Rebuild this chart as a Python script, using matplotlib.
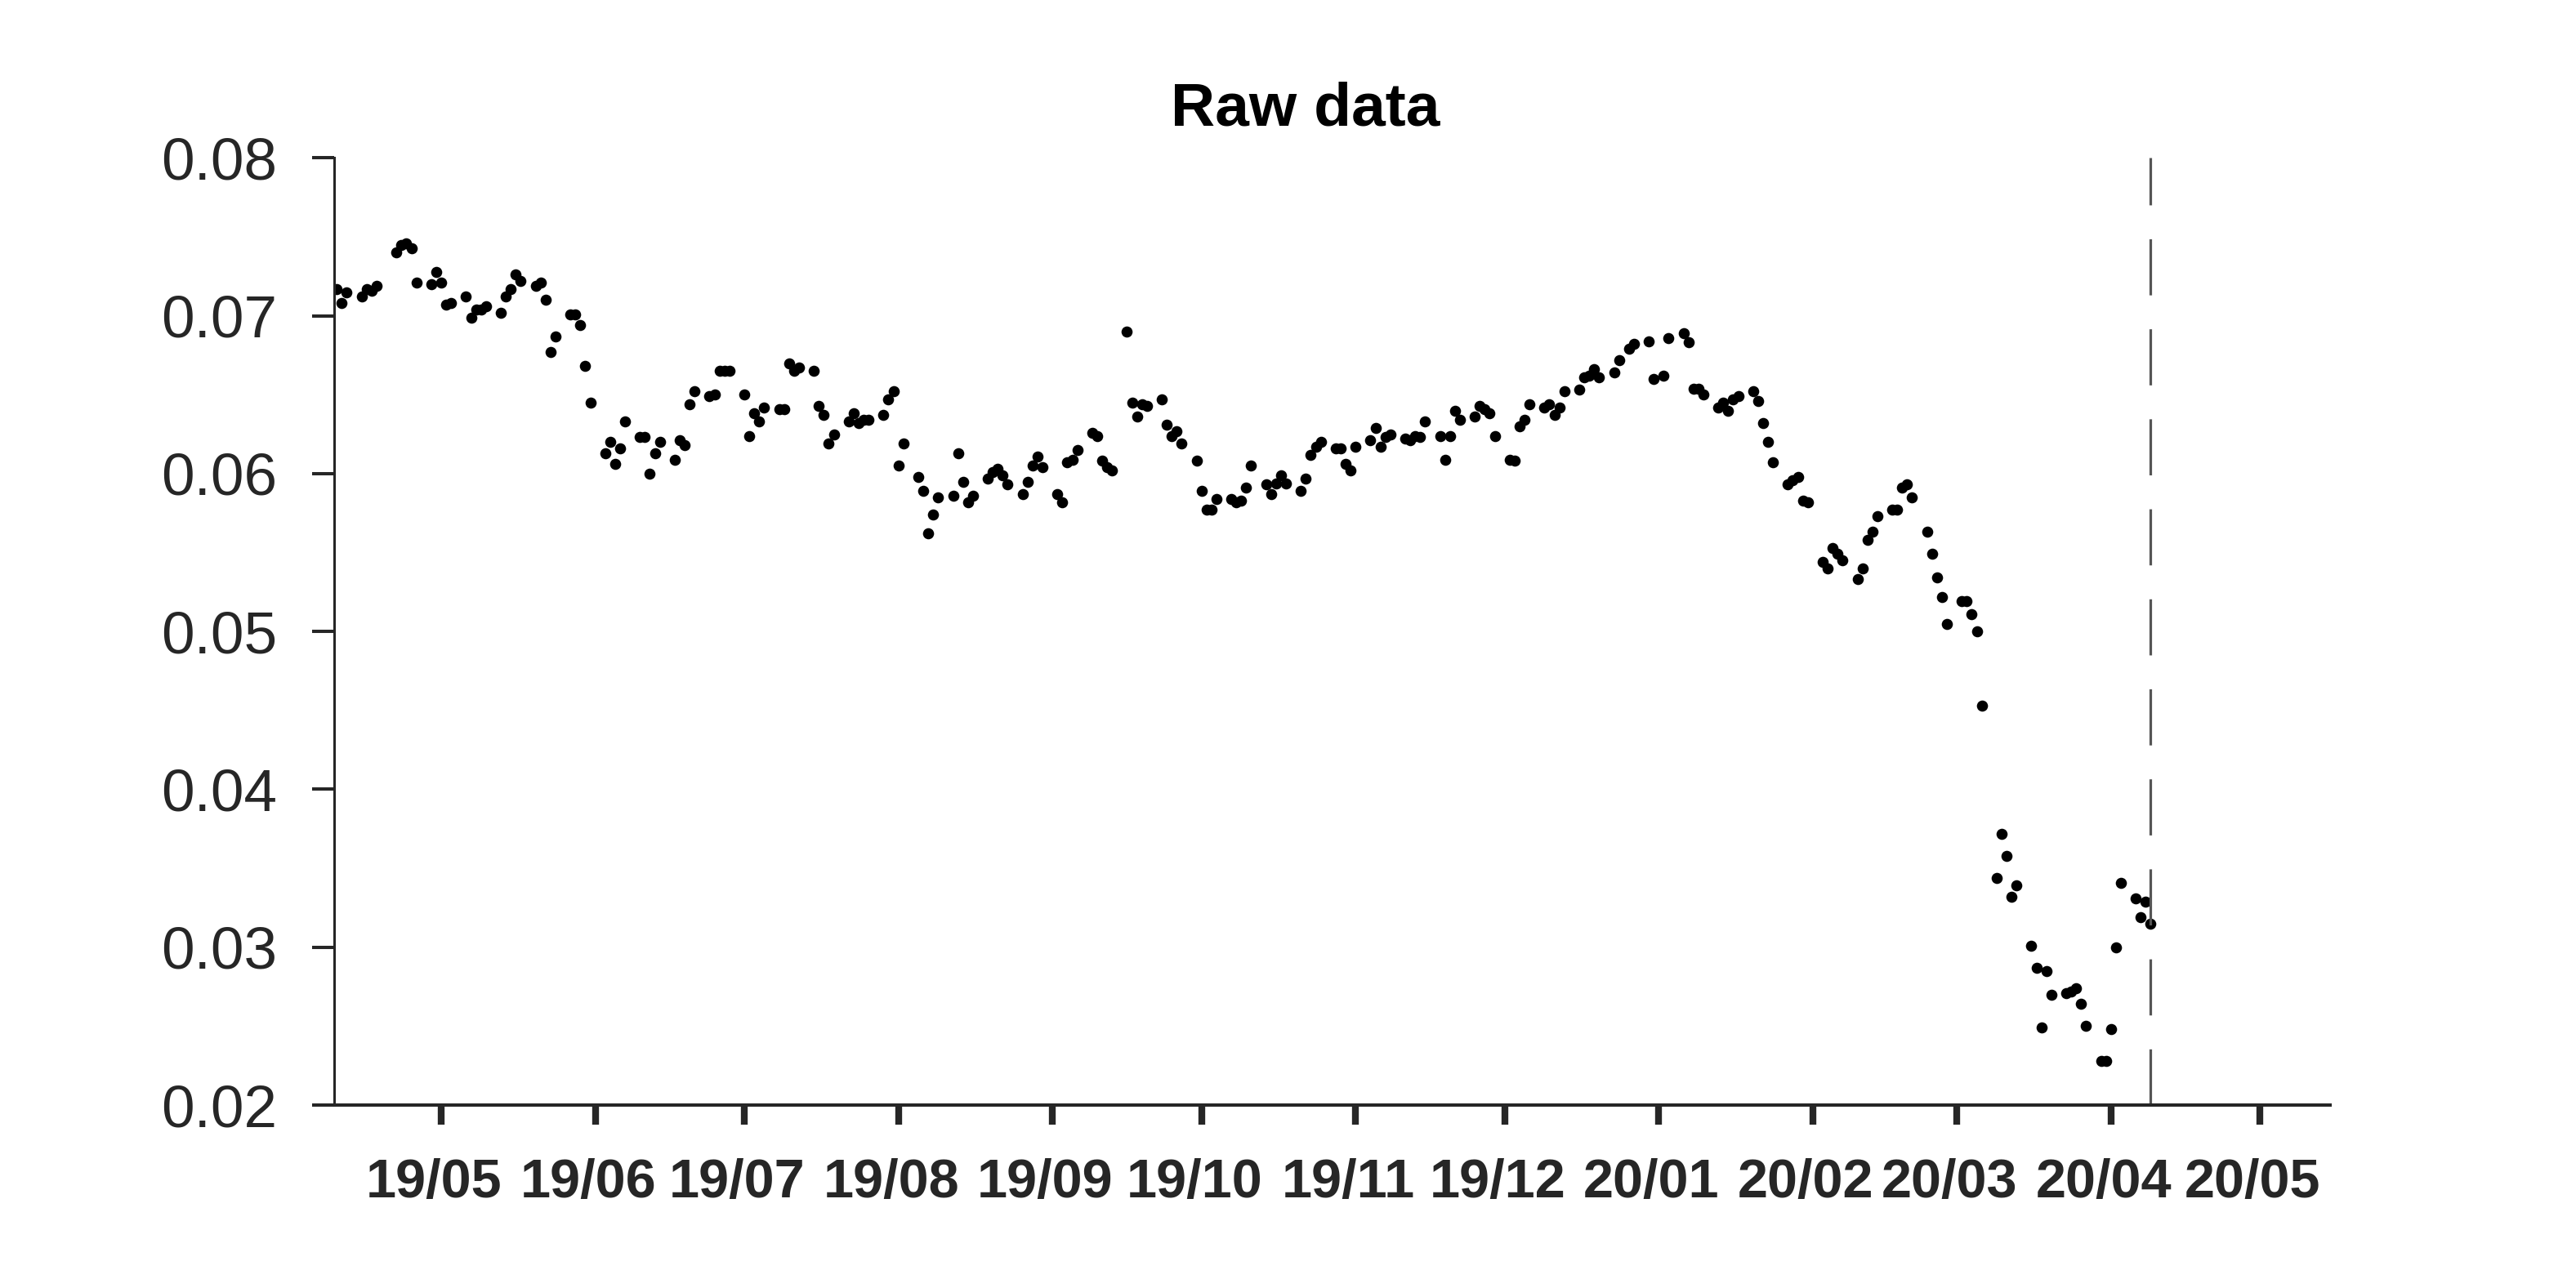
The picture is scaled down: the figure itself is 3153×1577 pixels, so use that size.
import numpy as np
import pandas as pd
import matplotlib
matplotlib.use('Agg')
import matplotlib.pyplot as plt
import matplotlib.dates as mdates
import matplotlib.transforms as mtransforms

plt.rcParams.update({
    "font.family": ["Liberation Sans", "DejaVu Sans"],
    "font.size": 48,
})

# trading days (business days minus market holidays)
start_date = '2019-04-10'
end_date = '2020-04-09'
holidays = ['2019-04-19', '2019-12-25', '2020-01-01']

raw = [
    0.0717, 0.0708, 0.0715,
    0.0712, 0.0717, 0.0716, 0.0719,
    0.0740, 0.0745, 0.0746, 0.0743, 0.0721,
    0.0720, 0.0728, 0.0721, 0.0707, 0.0708,
    0.0712, 0.0699, 0.0704, 0.0704, 0.0706,
    0.0702, 0.0712, 0.0717, 0.0726, 0.0722,
    0.0719, 0.0721, 0.0710, 0.0677, 0.0687,
    0.0701, 0.0701, 0.0694, 0.0668, 0.0645,
    0.0613, 0.0620, 0.0606, 0.0616, 0.0633,
    0.0623, 0.0623, 0.0600, 0.0613, 0.0620,
    0.0609, 0.0621, 0.0618, 0.0644, 0.0652,
    0.0649, 0.0650, 0.0665, 0.0665, 0.0665,
    0.0650, 0.0624, 0.0638, 0.0633, 0.0642,
    0.0641, 0.0641, 0.0670, 0.0665, 0.0667,
    0.0665, 0.0643, 0.0637, 0.0619, 0.0625,
    0.0633, 0.0638, 0.0632, 0.0634, 0.0634,
    0.0637, 0.0647, 0.0652, 0.0605, 0.0619,
    0.0598, 0.0589, 0.0562, 0.0574, 0.0585,
    0.0586, 0.0613, 0.0595, 0.0582, 0.0586,
    0.0597, 0.0601, 0.0603, 0.0599, 0.0593,
    0.0587, 0.0595, 0.0605, 0.0611, 0.0604,
    0.0587, 0.0582, 0.0607, 0.0609, 0.0615,
    0.0626, 0.0624, 0.0608, 0.0604, 0.0602,
    0.0690, 0.0645, 0.0636, 0.0644, 0.0643,
    0.0647, 0.0631, 0.0624, 0.0627, 0.0619,
    0.0608, 0.0589, 0.0577, 0.0577, 0.0584,
    0.0584, 0.0582, 0.0583, 0.0591, 0.0605,
    0.0593, 0.0587, 0.0594, 0.0599, 0.0594,
    0.0589, 0.0597, 0.0612, 0.0617, 0.0620,
    0.0616, 0.0616, 0.0606, 0.0602, 0.0617,
    0.0621, 0.0629, 0.0617, 0.0623, 0.0625,
    0.0622, 0.0621, 0.0624, 0.0623, 0.0633,
    0.0624, 0.0609, 0.0624, 0.0640, 0.0634,
    0.0636, 0.0643, 0.0641, 0.0638, 0.0624,
    0.0609, 0.0608, 0.0630, 0.0634, 0.0644,
    0.0642, 0.0644, 0.0637, 0.0642, 0.0652,
    0.0653, 0.0661, 0.0662, 0.0666, 0.0661,
    0.0664, 0.0672, 0.0679, 0.0682,
    0.0684, 0.0660, 0.0662, 0.0686,
    0.0689, 0.0683, 0.0654, 0.0654, 0.0650,
    0.0642, 0.0645, 0.0640, 0.0647, 0.0649,
    0.0652, 0.0646, 0.0632, 0.0620, 0.0607,
    0.0593, 0.0596, 0.0598, 0.0583, 0.0582,
    0.0544, 0.0540, 0.0553, 0.0549, 0.0545,
    0.0533, 0.0540, 0.0558, 0.0563, 0.0573,
    0.0577, 0.0577, 0.0591, 0.0593, 0.0585,
    0.0563, 0.0549, 0.0534, 0.0522, 0.0505,
    0.0519, 0.0519, 0.0511, 0.0500, 0.0453,
    0.0344, 0.0372, 0.0358, 0.0332, 0.0339,
    0.0301, 0.0287, 0.0249, 0.0285, 0.0270,
    0.0271, 0.0272, 0.0274, 0.0264, 0.0250,
    0.0228, 0.0228, 0.0248, 0.0300, 0.0341,
    0.0331, 0.0319, 0.0329, 0.0315,
]

yticks = [0.02, 0.03, 0.04, 0.05, 0.06, 0.07, 0.08]

dates = pd.bdate_range(start_date, end_date)
dates = dates[~dates.isin(pd.to_datetime(holidays))]
raw = np.array(raw)

axcol = '#262626'

fig = plt.figure(figsize=(31.53, 15.77), dpi=100)
ax = fig.add_axes([0.1298, 0.142, 0.7747, 0.7354])

ax.plot(dates, raw, 'o', color='k', markersize=9.8, markeredgewidth=0)
ax.axvline(dates[-1], color='#555555', linewidth=2.3, linestyle=(0, (21.5, 13)))

ax.set_xlim(pd.Timestamp('2019-04-09 12:00'), pd.Timestamp('2020-05-15 02:00'))
ax.set_ylim(0.02, 0.08)
ax.set_yticks(yticks)
ax.set_yticklabels(['%.2f' % t for t in yticks])

ax.xaxis.set_major_locator(mdates.MonthLocator())
ax.xaxis.set_major_formatter(mdates.DateFormatter('%y/%m'))

for s in ['top', 'right']:
    ax.spines[s].set_visible(False)
ax.spines['left'].set_linewidth(2.2)
ax.spines['bottom'].set_linewidth(2.9)
ax.spines['left'].set_color(axcol)
ax.spines['bottom'].set_color(axcol)

ax.tick_params(axis='x', direction='out', length=17.5, width=6, color=axcol,
               labelcolor=axcol, labelsize=48, pad=29)
ax.tick_params(axis='y', direction='out', length=19.5, width=2.9, color=axcol,
               labelcolor=axcol, labelsize=52.5, pad=31)
shift = mtransforms.ScaledTranslation(-9 / 100, 0, fig.dpi_scale_trans)
for lab in ax.get_xticklabels():
    lab.set_fontweight('bold')
    lab.set_transform(lab.get_transform() + shift)

ax.text(0.4866, 1.0345, 'Raw data', transform=ax.transAxes, ha='center',
        va='baseline', fontsize=54, fontweight='bold', color='k')

fig.savefig('out.png', dpi=100)
